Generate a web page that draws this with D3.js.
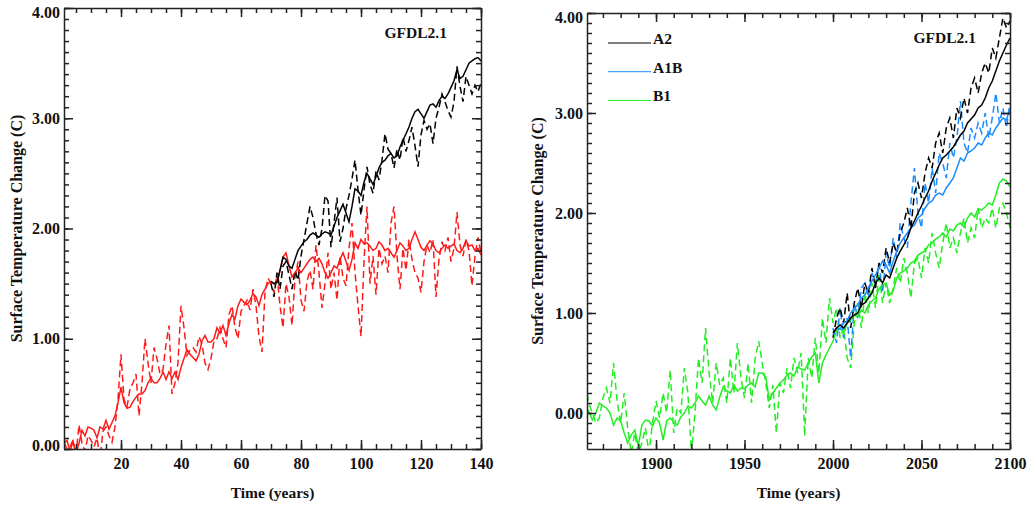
<!DOCTYPE html>
<html>
<head>
<meta charset="utf-8">
<script src="https://cdn.jsdelivr.net/npm/d3@7"></script>
<style>
  body { margin: 0; background: #fff; }
  svg text { font-family: "Liberation Serif", "Times New Roman", serif; font-weight: bold; fill: #111; }
  .axis path, .axis line { stroke: #222; stroke-width: 1.5px; }
  .line { fill: none; stroke-width: 1.5px; }
  .dashed { stroke-dasharray: 7,4; }
</style>
</head>
<body>
<div id="chart"></div>
<script>
// ---- data: left panel (years since start) ----
var leftRedStart = 1
var leftRedSolid = [
  0.05, 0.08, -0.02, 0.07, -0.03, 0.05, 0.17, 0.12, 0.20, 0.19,
  0.17, 0.10, 0.20, 0.18, 0.26, 0.18, 0.24, 0.30, 0.42, 0.56,
  0.42, 0.37, 0.38, 0.43, 0.47, 0.50, 0.50, 0.53, 0.60, 0.64,
  0.60, 0.60, 0.64, 0.70, 0.63, 0.70, 0.64, 0.70, 0.63, 0.74,
  0.82, 0.90, 0.86, 0.83, 0.80, 0.86, 0.98, 1.03, 0.97, 0.97,
  1.00, 1.10, 1.05, 1.12, 1.03, 1.14, 1.22, 1.18, 1.30, 1.36,
  1.33, 1.31, 1.35, 1.41, 1.38, 1.30, 1.40, 1.45, 1.50, 1.52,
  1.50, 1.51, 1.62, 1.74, 1.78, 1.66, 1.56, 1.60, 1.64, 1.60,
  1.64, 1.68, 1.72, 1.74, 1.70, 1.73, 1.68, 1.60, 1.55, 1.60,
  1.66, 1.64, 1.72, 1.78, 1.70, 1.62, 1.72, 1.87, 1.82, 1.90,
  1.86, 1.87, 1.84, 1.80, 1.82, 1.88, 1.85, 1.80, 1.82, 1.78,
  1.74, 1.80, 1.87, 1.84, 1.80, 1.82, 1.90, 1.97, 1.90, 1.83,
  1.80, 1.85, 1.89, 1.86, 1.80, 1.78, 1.82, 1.85, 1.82, 1.84,
  1.86, 1.80, 1.78, 1.82, 1.89, 1.84, 1.85, 1.80, 1.82, 1.76
]
var leftRedDashed = [
  0.06, 0.00, 0.02, 0.08, -0.06, 0.22, 0.05, -0.02, 0.12, 0.08,
  0.02, 0.10, -0.08, 0.16, 0.20, 0.12, 0.06, 0.20, 0.45, 0.86,
  0.45, 0.38, 0.55, 0.60, 0.68, 0.30, 0.60, 1.00, 0.78, 0.60,
  0.92, 0.82, 0.68, 0.72, 0.95, 1.12, 0.50, 0.60, 0.78, 1.30,
  1.10, 0.85, 0.90, 0.92, 0.88, 1.02, 0.95, 0.78, 0.72, 0.82,
  0.98, 1.00, 1.10, 1.00, 0.92, 1.22, 1.30, 1.10, 1.00, 1.25,
  1.30, 1.35, 1.26, 1.45, 1.30, 1.02, 0.88, 1.42, 1.55, 1.50,
  1.42, 1.58, 1.30, 1.10, 1.50, 1.38, 1.12, 1.55, 1.70, 1.35,
  1.25, 1.52, 1.62, 1.45, 1.85, 1.60, 1.28, 1.50, 1.78, 1.45,
  1.60, 1.35, 1.75, 1.55, 1.48, 1.82, 2.05, 1.60, 1.30, 1.02,
  1.70, 2.20, 1.50, 1.75, 1.40, 1.82, 1.68, 1.75, 1.60, 2.05,
  2.20, 1.75, 1.45, 1.82, 1.62, 1.90, 1.72, 1.60, 1.55, 1.42,
  1.70, 1.85, 1.78, 1.90, 1.38, 1.72, 1.88, 1.80, 1.92, 1.70,
  1.82, 2.15, 1.85, 1.75, 1.90, 1.80, 1.48, 1.75, 1.92, 1.78
]
var leftBlackStart = 70
var leftBlackSolid = [
  1.52, 1.50, 1.51, 1.62, 1.74, 1.72, 1.66, 1.64, 1.72, 1.80,
  1.84, 1.88, 1.90, 1.94, 1.96, 1.94, 1.92, 1.95, 1.97, 1.96,
  1.94, 2.02, 2.10, 2.16, 2.22, 2.14, 2.06, 2.20, 2.36, 2.34,
  2.30, 2.42, 2.50, 2.45, 2.40, 2.47, 2.55, 2.60, 2.62, 2.66,
  2.68, 2.64, 2.66, 2.74, 2.80, 2.86, 2.92, 3.00, 3.06, 3.08,
  3.04, 3.00, 3.06, 3.12, 3.13, 3.10, 3.16, 3.20, 3.18, 3.22,
  3.28, 3.34, 3.44, 3.36, 3.38, 3.44, 3.50, 3.52, 3.54, 3.55, 3.52
]
var leftBlackDashed = [
  1.50, 1.38, 1.60, 1.45, 1.66, 1.70, 1.58, 1.45, 1.62, 1.53,
  1.75, 1.90, 2.05, 2.20, 2.10, 1.95, 1.85, 2.00, 2.30, 2.25,
  1.83, 2.05, 2.28, 1.88, 2.00, 2.18, 2.30, 2.45, 2.62, 2.35,
  2.12, 2.35, 2.56, 2.40, 2.32, 2.52, 2.44, 2.62, 2.86, 2.72,
  2.68, 2.55, 2.72, 2.62, 2.83, 2.70, 2.80, 2.92, 2.75, 2.56,
  2.85, 2.98, 2.90, 2.95, 2.77, 3.00, 3.10, 3.22, 3.15, 3.07,
  3.01, 3.15, 3.47, 3.29, 3.15, 3.38, 3.30, 3.22, 3.30, 3.24, 3.32
]

// ---- data: right panel (calendar years, every 2 years) ----
var rightGreenStart = 1860
var rightStep = 2
var greenSolid = [
  0.05, 0.02, -0.07, 0.00, 0.10, 0.07, 0.05, 0.00, -0.12, -0.05,
  -0.08, -0.20, -0.30, -0.22, -0.17, -0.33, -0.12, -0.07, -0.08, -0.13,
  -0.05, -0.10, -0.27, -0.08, -0.05, -0.09, -0.12, -0.04, 0.00, 0.07,
  0.05, 0.10, 0.17, 0.12, 0.08, 0.17, 0.08, 0.03, 0.16, 0.26,
  0.22, 0.20, 0.28, 0.22, 0.25, 0.24, 0.28, 0.30, 0.26, 0.40,
  0.40, 0.36, 0.13, 0.20, 0.25, 0.30, 0.33, 0.38, 0.40, 0.37,
  0.46, 0.44, 0.43, 0.50, 0.56, 0.60, 0.30, 0.50, 0.58, 0.65,
  0.72, 0.82, 0.85, 0.80, 0.90, 0.93, 0.98, 0.96, 1.03, 1.00,
  1.08, 1.12, 1.15, 1.24, 1.28, 1.30, 1.18, 1.22, 1.35, 1.40,
  1.42, 1.45, 1.50, 1.52, 1.58, 1.60, 1.62, 1.68, 1.70, 1.74,
  1.76, 1.80, 1.76, 1.84, 1.82, 1.88, 1.90, 1.86, 1.95, 2.00,
  1.96, 2.04, 2.03, 2.06, 2.10, 2.08, 2.18, 2.30, 2.34, 2.32,
  2.26
]
var greenDashed = [
  0.30, 0.10, 0.00, -0.10, -0.05, 0.15, 0.25, 0.10, 0.50, 0.12,
  -0.10, 0.20, -0.15, -0.40, -0.20, -0.40, -0.30, -0.15, -0.40, -0.10,
  0.12, -0.05, 0.20, 0.00, 0.43, -0.20, 0.05, 0.00, 0.45, 0.20,
  -0.40, 0.00, 0.55, 0.30, 0.85, 0.40, 0.10, 0.50, 0.28, 0.35,
  0.10, 0.55, 0.20, 0.70, 0.35, 0.15, 0.50, 0.10, 0.55, 0.72,
  0.50, 0.30, 0.05, 0.28, -0.20, 0.30, 0.20, 0.45, 0.25, 0.55,
  0.40, 0.60, -0.23, 0.55, 0.35, 0.75, 0.40, 0.95, 0.70, 1.15,
  0.90, 1.05, 0.75, 0.85, 0.55, 0.45, 0.90, 1.10, 0.85, 1.20,
  1.00, 1.30, 1.05, 1.40, 1.10, 1.30, 1.10, 1.25, 1.45, 1.30,
  1.55, 1.40, 1.15, 1.50, 1.55, 1.35, 1.65, 1.50, 1.80, 1.60,
  1.45, 1.70, 1.90, 1.65, 1.75, 1.60, 1.80, 1.95, 1.70, 1.85,
  1.75, 2.05, 1.85, 1.95, 1.90, 2.05, 1.85, 2.05, 2.10, 2.00,
  1.85
]
var scenarioStart = 2000
var blueSolid = [
  0.78, 0.85, 0.84, 0.90, 0.92, 1.00, 1.05, 1.08, 1.15, 1.18,
  1.25, 1.32, 1.38, 1.45, 1.52, 1.48, 1.40, 1.52, 1.62, 1.70,
  1.75, 1.80, 1.85, 1.88, 1.95, 1.98, 2.05, 2.10, 2.12, 2.18,
  2.20, 2.18, 2.25, 2.30, 2.35, 2.45, 2.55, 2.52, 2.60, 2.62,
  2.65, 2.70, 2.68, 2.75, 2.80, 2.78, 2.85, 2.90, 2.95, 2.93,
  3.05
]
var blueDashed = [
  0.85, 0.70, 1.05, 0.75, 0.95, 0.55, 1.10, 0.95, 1.25, 1.30,
  1.15, 1.40, 1.30, 1.50, 1.20, 1.60, 1.45, 1.75, 1.55, 1.90,
  1.75, 1.65, 2.10, 2.45, 2.00, 1.85, 2.30, 2.10, 2.45, 2.20,
  2.60, 2.50, 2.35, 2.70, 2.55, 2.75, 3.12, 2.70, 2.60, 2.85,
  2.75, 2.90, 2.80, 3.00, 2.75, 2.95, 3.20, 2.90, 3.05, 2.85,
  3.10
]
var blackSolid = [
  0.80, 0.85, 0.88, 0.85, 0.90, 0.95, 0.98, 1.00, 1.08, 1.10,
  1.15, 1.20, 1.30, 1.35, 1.30, 1.38, 1.35, 1.45, 1.55, 1.62,
  1.68, 1.75, 1.85, 1.92, 2.00, 2.07, 2.15, 2.22, 2.32, 2.40,
  2.48, 2.55, 2.58, 2.62, 2.66, 2.72, 2.78, 2.82, 2.90, 2.94,
  2.98, 3.05, 3.08, 3.15, 3.25, 3.32, 3.42, 3.52, 3.60, 3.68,
  3.75
]
var blackDashed = [
  0.75, 0.95, 1.05, 0.90, 1.20, 0.85, 1.10, 1.25, 1.05, 1.30,
  1.20, 1.45, 1.25, 1.50, 1.40, 1.65, 1.50, 1.70, 1.60, 1.80,
  1.90, 2.05, 1.85, 2.20, 2.30, 2.15, 2.40, 2.55, 2.45, 2.70,
  2.80, 2.60, 2.85, 2.95, 2.75, 3.05, 2.95, 3.15, 3.00, 3.25,
  3.35, 3.20, 3.40, 3.50, 3.40, 3.65, 3.55, 3.75, 3.95, 3.85,
  3.92
]

// tick labels
var leftXTicks = [20, 40, 60, 80, 100, 120, 140]
var rightXTicks = [1900, 1950, 2000, 2050, 2100]
var yTicks = [0, 1, 2, 3, 4]
var legendNames = ["A2", "A1B", "B1"]
var colors = { red: "#ff1a1a", black: "#000000", blue: "#1a8cff", green: "#22ee22" }

var width = 1027, height = 505

var svg = d3.select("#chart")
  .append("svg")
  .attr("width", width)
  .attr("height", height)

function toPoints(start, step, values) {
  return values.map((v, i) => ({ year: start + i * step, value: v }))
}

function drawPanel(p) {
  var x = d3.scaleLinear().domain(p.xDomain).range([p.left, p.right])
  var y = d3.scaleLinear().domain(p.yDomain).range([p.bottom, p.top])

  var g = svg.append("g").attr("id", p.id)

  g.append("clipPath")
    .attr("id", p.id + "-clip")
    .append("rect")
    .attr("x", p.left)
    .attr("y", p.top)
    .attr("width", p.right - p.left)
    .attr("height", p.bottom - p.top)

  // series lines
  var line = d3.line()
    .x(d => x(d.year))
    .y(d => y(d.value))

  var lines = g.append("g")
    .attr("class", "lines")
    .attr("clip-path", `url(#${p.id}-clip)`)

  p.series.forEach(s => {
    lines.append("path")
      .datum(toPoints(s.start, s.step, s.values))
      .attr("class", s.dashed ? "line dashed" : "line")
      .attr("d", line)
      .style("stroke", s.color)
  })

  // minor ticks on all four sides
  var xMinor = d3.range(p.xDomain[0], p.xDomain[1] + 0.01, 1).filter(v => v % p.xMinorStep === 0)
  var yMinor = d3.range(Math.ceil(p.yDomain[0] * 10), p.yDomain[1] * 10 + 1).map(v => v / 10)

  var minorAxes = [
    [d3.axisBottom(x).tickValues(xMinor), `translate(0,${p.bottom})`],
    [d3.axisTop(x).tickValues(xMinor), `translate(0,${p.top})`],
    [d3.axisLeft(y).tickValues(yMinor), `translate(${p.left},0)`],
    [d3.axisRight(y).tickValues(yMinor), `translate(${p.right},0)`]
  ]
  minorAxes.forEach(a => {
    g.append("g")
      .attr("class", "axis minor")
      .attr("transform", a[1])
      .call(a[0].tickSize(-5).tickSizeOuter(0).tickFormat(""))
      .select(".domain").remove()
  })

  // major ticks + frame
  g.append("g")
    .attr("class", "axis x-axis")
    .attr("transform", `translate(0,${p.bottom})`)
    .call(d3.axisBottom(x).tickValues(p.xTicks).tickSize(-9).tickSizeOuter(0).tickPadding(9).tickFormat(d3.format("d")))
    .selectAll("text")
    .style("font-size", "16px")

  g.append("g")
    .attr("class", "axis")
    .attr("transform", `translate(0,${p.top})`)
    .call(d3.axisTop(x).tickValues(p.xTicks).tickSize(-9).tickSizeOuter(0).tickFormat(""))

  g.append("g")
    .attr("class", "axis y-axis")
    .attr("transform", `translate(${p.left},0)`)
    .call(d3.axisLeft(y).tickValues(yTicks).tickSize(-9).tickSizeOuter(0).tickPadding(4).tickFormat(d3.format(".2f")))
    .selectAll("text")
    .style("font-size", "16px")
    .attr("transform", d => {
      var py = y(d)
      if (py - p.top < 6) return "translate(0,4)"
      if (p.bottom - py < 6) return "translate(0,-4)"
      return null
    })

  g.append("g")
    .attr("class", "axis")
    .attr("transform", `translate(${p.right},0)`)
    .call(d3.axisRight(y).tickValues(yTicks).tickSize(-9).tickSizeOuter(0).tickFormat(""))

  // titles
  g.append("text")
    .text("GFDL2.1")
    .attr("x", p.right - 34)
    .attr("y", p.top + 30)
    .attr("text-anchor", "end")
    .style("font-size", "15.5px")

  g.append("text")
    .text("Time (years)")
    .attr("x", (p.left + p.right) / 2)
    .attr("y", 498)
    .attr("text-anchor", "middle")
    .style("font-size", "15.5px")

  g.append("text")
    .text("Surface Temperature Change (C)")
    .attr("transform", `translate(${p.yTitleX},${(p.top + p.bottom) / 2}) rotate(-90)`)
    .attr("text-anchor", "middle")
    .style("font-size", "16px")

  return { x: x, y: y, g: g }
}

// Left panel: 1% CO2 runs
drawPanel({
  id: "left",
  left: 64, right: 481, top: 8, bottom: 449,
  xDomain: [1, 140], yDomain: [0, 4],
  xTicks: leftXTicks, xMinorStep: 5,
  yTitleX: 22,
  series: [
    { start: leftRedStart, step: 1, values: leftRedDashed, color: colors.red, dashed: true },
    { start: leftBlackStart, step: 1, values: leftBlackDashed, color: colors.black, dashed: true },
    { start: leftRedStart, step: 1, values: leftRedSolid, color: colors.red },
    { start: leftBlackStart, step: 1, values: leftBlackSolid, color: colors.black }
  ]
})

// Right panel: SRES scenarios
var right = drawPanel({
  id: "right",
  left: 587, right: 1010, top: 13, bottom: 449,
  xDomain: [1861, 2100], yDomain: [-0.36, 4],
  xTicks: rightXTicks, xMinorStep: 10,
  yTitleX: 543,
  series: [
    { start: rightGreenStart, step: rightStep, values: greenDashed, color: colors.green, dashed: true },
    { start: scenarioStart, step: rightStep, values: blueDashed, color: colors.blue, dashed: true },
    { start: scenarioStart, step: rightStep, values: blackDashed, color: colors.black, dashed: true },
    { start: rightGreenStart, step: rightStep, values: greenSolid, color: colors.green },
    { start: scenarioStart, step: rightStep, values: blueSolid, color: colors.blue },
    { start: scenarioStart, step: rightStep, values: blackSolid, color: colors.black }
  ]
})

// Legend
var legendColors = [colors.black, colors.blue, colors.green]
var legend = right.g.append("g").attr("class", "legend")

legendNames.forEach((name, i) => {
  var ly = 13 + 30 + i * 28.7
  legend.append("line")
    .attr("x1", 608)
    .attr("x2", 651)
    .attr("y1", ly)
    .attr("y2", ly)
    .style("stroke", legendColors[i])
    .style("stroke-width", "1px")
  legend.append("text")
    .text(name)
    .attr("x", 653)
    .attr("y", ly + 1)
    .style("font-size", "15.5px")
})
</script>
</body>
</html>
